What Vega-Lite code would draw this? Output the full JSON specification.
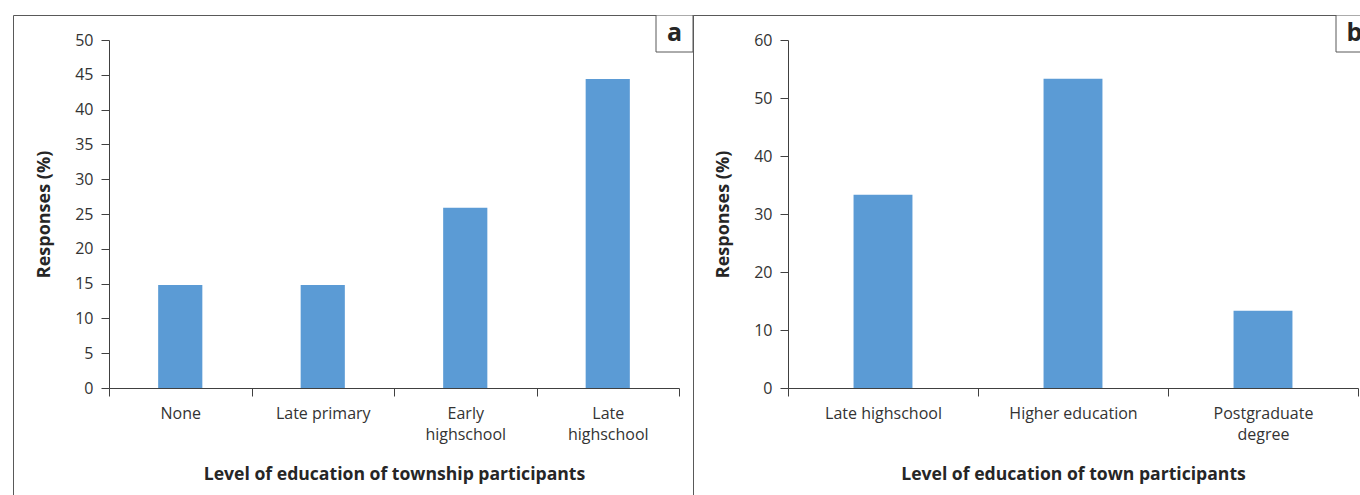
{
  "$schema": "https://vega.github.io/schema/vega-lite/v6.json",
  "padding": {"left": 12, "top": 14, "right": 0, "bottom": 0},
  "spacing": 0,
  "bounds": "flush",
  "datasets": {
    "township": [
      {"level": "None", "pct": 14.8},
      {"level": "Late primary", "pct": 14.8},
      {"level": "Early highschool", "pct": 25.9},
      {"level": "Late highschool", "pct": 44.4}
    ],
    "town": [
      {"level": "Late highschool", "pct": 33.3},
      {"level": "Higher education", "pct": 53.3},
      {"level": "Postgraduate degree", "pct": 13.3}
    ]
  },
  "config": {
    "font": "Open Sans",
    "view": {"stroke": "#595959", "strokeWidth": 1},
    "axis": {
      "grid": false,
      "domainColor": "#404040",
      "tickColor": "#404040",
      "labelColor": "#333333",
      "titleColor": "#262626",
      "labelFont": "Open Sans",
      "titleFont": "Open Sans",
      "labelFontSize": 16,
      "titleFontSize": 17.6,
      "titleFontWeight": "bold"
    }
  },
  "hconcat": [
    {
      "width": 680,
      "height": 481,
      "layer": [
        {
          "data": {"name": "township"},
          "mark": {"type": "bar", "color": "#5B9BD5", "width": {"band": 0.31}},
          "encoding": {
            "x": {
              "field": "level",
              "type": "nominal",
              "sort": null,
              "scale": {"range": [96, 666], "paddingInner": 0, "paddingOuter": 0},
              "axis": {
                "title": "Level of education of township participants",
                "labelAngle": 0,
                "offset": -108,
                "tickBand": "extent",
                "tickSize": 8,
                "labelPadding": 9,
                "labelLineHeight": 21,
                "labelExpr": "indexof(['Early highschool', 'Late highschool'], datum.label) >= 0 ? split(datum.label, ' ') : datum.label",
                "titleY": 91,
                "titleBaseline": "alphabetic"
              }
            },
            "y": {
              "field": "pct",
              "type": "quantitative",
              "scale": {"domain": [0, 50], "range": [373, 25], "nice": false},
              "axis": {
                "title": "Responses (%)",
                "values": [0, 5, 10, 15, 20, 25, 30, 35, 40, 45, 50],
                "offset": -96,
                "tickSize": 8,
                "labelPadding": 8,
                "titleFontSize": 18,
                "titleX": -60,
                "titleBaseline": "alphabetic"
              }
            }
          }
        },
        {
          "data": {"values": [{"tag": "a"}]},
          "layer": [
            {
              "mark": {"type": "point", "shape": "square", "size": 1369, "fill": "white", "stroke": "#595959", "strokeWidth": 1, "opacity": 1, "xOffset": -18.5, "yOffset": 18.5, "clip": true},
              "encoding": {"x": {"value": "width"}, "y": {"value": 0}}
            },
            {
              "mark": {"type": "text", "fontSize": 25, "fontWeight": "bold", "color": "#262626", "align": "center", "baseline": "alphabetic", "xOffset": -18.5, "yOffset": 26, "clip": true},
              "encoding": {"x": {"value": "width"}, "y": {"value": 0}, "text": {"field": "tag"}}
            }
          ]
        }
      ]
    },
    {
      "width": 668,
      "height": 481,
      "layer": [
        {
          "data": {"name": "town"},
          "mark": {"type": "bar", "color": "#5B9BD5", "width": {"band": 0.31}},
          "encoding": {
            "x": {
              "field": "level",
              "type": "nominal",
              "sort": null,
              "scale": {"range": [95, 665], "paddingInner": 0, "paddingOuter": 0},
              "axis": {
                "title": "Level of education of town participants",
                "labelAngle": 0,
                "offset": -108,
                "tickBand": "extent",
                "tickSize": 8,
                "labelPadding": 9,
                "labelLineHeight": 21,
                "labelExpr": "datum.label == 'Postgraduate degree' ? split(datum.label, ' ') : datum.label",
                "titleY": 91,
                "titleBaseline": "alphabetic"
              }
            },
            "y": {
              "field": "pct",
              "type": "quantitative",
              "scale": {"domain": [0, 60], "range": [373, 25], "nice": false},
              "axis": {
                "title": "Responses (%)",
                "values": [0, 10, 20, 30, 40, 50, 60],
                "offset": -95,
                "tickSize": 8,
                "labelPadding": 8,
                "titleFontSize": 18,
                "titleX": -60,
                "titleBaseline": "alphabetic"
              }
            }
          }
        },
        {
          "data": {"values": [{"tag": "b"}]},
          "layer": [
            {
              "mark": {"type": "point", "shape": "square", "size": 1369, "fill": "white", "stroke": "#595959", "strokeWidth": 1, "opacity": 1, "xOffset": -6.5, "yOffset": 18.5, "clip": true},
              "encoding": {"x": {"value": "width"}, "y": {"value": 0}}
            },
            {
              "mark": {"type": "text", "fontSize": 25, "fontWeight": "bold", "color": "#262626", "align": "center", "baseline": "alphabetic", "xOffset": -6.5, "yOffset": 26, "clip": true},
              "encoding": {"x": {"value": "width"}, "y": {"value": 0}, "text": {"field": "tag"}}
            }
          ]
        }
      ]
    }
  ]
}
